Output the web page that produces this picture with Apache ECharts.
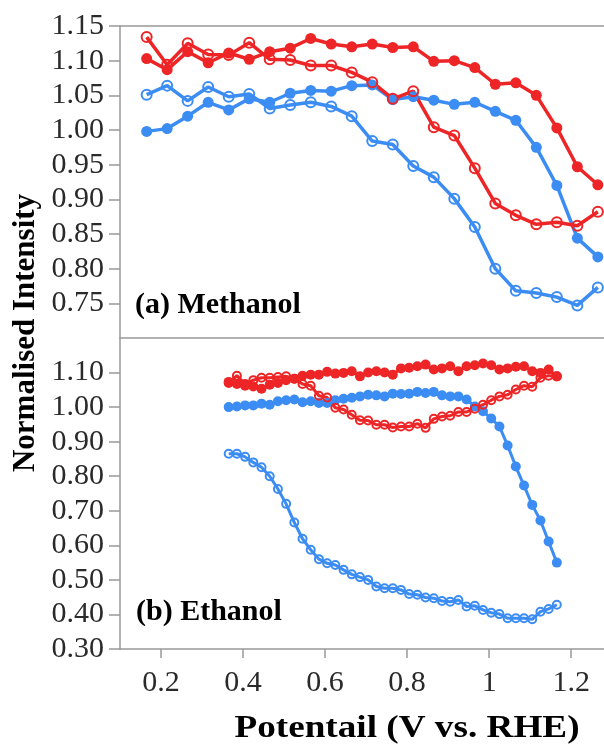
<!DOCTYPE html>
<html>
<head>
<meta charset="utf-8">
<script src="https://cdn.jsdelivr.net/npm/echarts@6/dist/echarts.min.js"></script>
<style>
html,body{margin:0;padding:0;background:#fff;}
#chart{width:604px;height:751px;}
</style>
</head>
<body>
<div id="chart"></div>
<script>
// ---- Data ----
var methX = [0.165,0.215,0.265,0.315,0.365,0.415,0.465,0.515,0.565,0.615,0.665,0.715,0.765,0.815,0.865,0.915,0.965,1.015,1.065,1.115,1.165,1.215,1.265];
var methRedFilled = [1.103,1.087,1.113,1.097,1.111,1.102,1.113,1.118,1.132,1.124,1.120,1.124,1.119,1.120,1.099,1.100,1.090,1.066,1.068,1.050,1.003,0.947,0.921];
var methRedOpen = [1.134,1.094,1.125,1.109,1.108,1.126,1.102,1.101,1.093,1.093,1.083,1.069,1.045,1.056,1.004,0.992,0.945,0.894,0.877,0.864,0.867,0.862,0.882];
var methBlueFilled = [0.998,1.002,1.020,1.040,1.029,1.045,1.040,1.053,1.057,1.056,1.064,1.065,1.044,1.048,1.043,1.037,1.040,1.027,1.014,0.975,0.920,0.844,0.817];
var methBlueOpen = [1.051,1.064,1.042,1.062,1.048,1.052,1.031,1.036,1.040,1.034,1.020,0.984,0.979,0.948,0.932,0.901,0.860,0.800,0.768,0.765,0.759,0.747,0.773];

var ethX = [0.365,0.385,0.405,0.425,0.445,0.465,0.485,0.505,0.525,0.545,0.565,0.585,0.605,0.625,0.645,0.665,0.685,0.705,0.725,0.745,0.765,0.785,0.805,0.825,0.845,0.865,0.885,0.905,0.925,0.945,0.965,0.985,1.005,1.025,1.045,1.065,1.085,1.105,1.125,1.145,1.165];
var ethRedFilled = [1.073,1.067,1.062,1.060,1.053,1.065,1.070,1.078,1.082,1.091,1.094,1.094,1.102,1.097,1.099,1.104,1.089,1.100,1.104,1.100,1.094,1.112,1.114,1.118,1.123,1.109,1.112,1.118,1.104,1.118,1.121,1.126,1.121,1.109,1.112,1.117,1.118,1.104,1.099,1.109,1.089];
var ethRedOpen = [1.070,1.091,1.067,1.078,1.085,1.085,1.087,1.089,1.082,1.067,1.062,1.033,1.028,0.998,0.993,0.978,0.962,0.961,0.949,0.949,0.941,0.944,0.944,0.952,0.940,0.966,0.973,0.975,0.986,0.986,0.995,1.007,1.020,1.031,1.036,1.051,1.062,1.059,1.085,1.091,1.089];
var ethBlueFilled = [1.000,1.002,1.005,1.005,1.010,1.007,1.017,1.020,1.022,1.014,1.017,1.012,1.012,1.020,1.024,1.027,1.031,1.036,1.034,1.031,1.039,1.038,1.039,1.044,1.041,1.044,1.034,1.031,1.031,1.022,1.002,0.988,0.967,0.944,0.889,0.828,0.773,0.717,0.672,0.611,0.550];
var ethBlueOpen = [0.865,0.865,0.856,0.840,0.826,0.800,0.763,0.720,0.666,0.619,0.587,0.560,0.548,0.543,0.529,0.516,0.508,0.500,0.481,0.476,0.476,0.471,0.459,0.457,0.449,0.447,0.439,0.437,0.442,0.423,0.425,0.413,0.405,0.401,0.389,0.389,0.389,0.386,0.408,0.416,0.428];

var xTickLabels = [0.2,0.4,0.6,0.8,1.0,1.2];
var methYTicks = [0.75,0.80,0.85,0.90,0.95,1.00,1.05,1.10,1.15];
var ethYTicks = [0.30,0.40,0.50,0.60,0.70,0.80,0.90,1.00,1.10];

var xTitle = 'Potentail (V vs. RHE)';
var yTitle = 'Normalised Intensity';
var panelA = '(a) Methanol';
var panelB = '(b) Ethanol';

// ---- Styles ----
var RED = '#EE2526';
var BLUE = '#3B8CF3';
var AXIS = '#999999';
var SERIF = '"Liberation Serif", "Times New Roman", serif';

function zip(xs, ys) { return xs.map(function (x, i) { return [x, ys[i]]; }); }

function mk(name, xs, ys, color, open, grid, big) {
  return {
    name: name, type: 'line',
    xAxisIndex: grid === 0 ? 0 : 2, yAxisIndex: grid,
    data: zip(xs, ys),
    symbol: 'circle',
    symbolSize: open ? (big ? 10 : 8) : (big ? 11 : 10),
    showAllSymbol: true,
    lineStyle: { color: color, width: big ? 3.5 : 3 },
    itemStyle: open ? { color: 'rgba(255,255,255,0)', borderColor: color, borderWidth: 2 } : { color: color, borderWidth: 0 },
    emphasis: { disabled: true },
    animation: false
  };
}

var chart = echarts.init(document.getElementById('chart'), null, { renderer: 'canvas' });

var xBase = { type: 'value', min: 0.1, max: 1.28, splitLine: { show: false } };
var lbl = { fontFamily: SERIF, fontSize: 30, color: '#2a2a2a' };

chart.setOption({
  backgroundColor: '#fff',
  animation: false,
  grid: [
    { left: 120, right: 0, top: 26, height: 312 },
    { left: 120, right: 0, top: 338, height: 311 }
  ],
  xAxis: [
    Object.assign({}, xBase, { gridIndex: 0, position: 'bottom', axisLine: { show: true, lineStyle: { color: AXIS, width: 1.5 } }, axisTick: { show: false }, axisLabel: { show: false } }),
    Object.assign({}, xBase, { gridIndex: 0, position: 'top', axisLine: { show: true, lineStyle: { color: AXIS, width: 1.5 } }, axisTick: { show: false }, axisLabel: { show: false } }),
    Object.assign({}, xBase, { gridIndex: 1, position: 'bottom', interval: 0.2,
      axisLine: { show: true, lineStyle: { color: AXIS, width: 1.5 } },
      axisTick: { show: true, inside: false, length: 9, lineStyle: { color: AXIS, width: 1.5 }, customValues: xTickLabels },
      axisLabel: Object.assign({ margin: 19, customValues: xTickLabels, formatter: function (v) { return String(+(+v).toFixed(1)); } }, lbl) })
  ],
  yAxis: [
    { type: 'value', gridIndex: 0, min: 0.70, max: 1.15, interval: 0.05, splitLine: { show: false },
      axisLine: { show: true, lineStyle: { color: AXIS, width: 1.5 } },
      axisTick: { show: true, length: 11, lineStyle: { color: AXIS, width: 1.5 }, customValues: methYTicks },
      axisLabel: Object.assign({ margin: 16, customValues: methYTicks, formatter: function (v) { return (+v).toFixed(2); } }, lbl) },
    { type: 'value', gridIndex: 1, min: 0.30, max: 1.20, interval: 0.1, splitLine: { show: false },
      axisLine: { show: true, lineStyle: { color: AXIS, width: 1.5 } },
      axisTick: { show: true, length: 11, lineStyle: { color: AXIS, width: 1.5 }, customValues: ethYTicks },
      axisLabel: Object.assign({ margin: 16, customValues: ethYTicks, formatter: function (v) { return (+v).toFixed(2); } }, lbl) }
  ],
  series: [
    mk('meth blue open', methX, methBlueOpen, BLUE, true, 0, true),
    mk('meth blue filled', methX, methBlueFilled, BLUE, false, 0, true),
    mk('meth red open', methX, methRedOpen, RED, true, 0, true),
    mk('meth red filled', methX, methRedFilled, RED, false, 0, true),
    mk('eth blue open', ethX, ethBlueOpen, BLUE, true, 1, false),
    mk('eth blue filled', ethX, ethBlueFilled, BLUE, false, 1, false),
    mk('eth red open', ethX, ethRedOpen, RED, true, 1, false),
    mk('eth red filled', ethX, ethRedFilled, RED, false, 1, false)
  ],
  graphic: [
    { type: 'text', left: 135, top: 290, silent: true,
      style: { text: panelA, font: 'bold 30px ' + SERIF, fill: '#000' } },
    { type: 'text', left: 136, top: 597, silent: true,
      style: { text: panelB, font: 'bold 30px ' + SERIF, fill: '#000' } },
    { type: 'text', x: 407, y: 729, scaleX: 1.2, silent: true,
      style: { text: xTitle, font: 'bold 31px ' + SERIF, fill: '#000', textAlign: 'center', textVerticalAlign: 'middle' } },
    { type: 'text', x: 26, y: 333, rotation: Math.PI / 2, silent: true,
      style: { text: yTitle, font: 'bold 31px ' + SERIF, fill: '#000', textAlign: 'center', textVerticalAlign: 'middle' } }
  ]
});
</script>
</body>
</html>
